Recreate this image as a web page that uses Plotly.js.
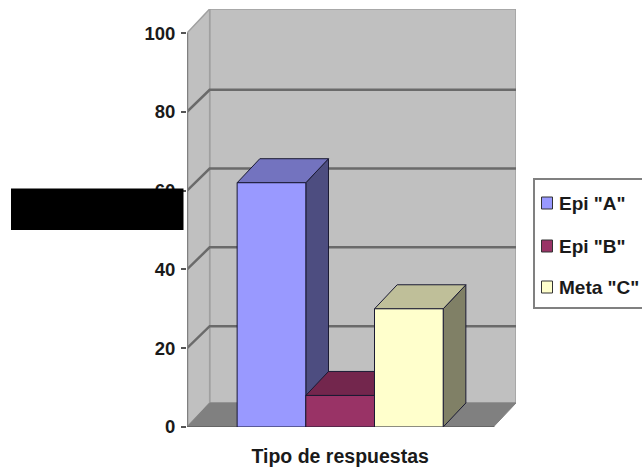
<!DOCTYPE html>
<html>
<head>
<meta charset="utf-8">
<script src="https://cdn.plot.ly/plotly-3.0.1.min.js"></script>
<style>html,body{margin:0;padding:0;background:#fff}</style>
</head>
<body>
<div id="chart" style="width:642px;height:469px"></div>
<script>
// Response types and their percentages
const seriesNames = ['Epi "A"', 'Epi "B"', 'Meta "C"'];
const seriesValues = [62, 8, 30];
const frontColors = ['#9999FF', '#993366', '#FFFFCC'];
const topColors = ['#7373BF', '#73264D', '#BFBF99'];
const sideColors = ['#4D4D80', '#4D1A33', '#808066'];
const yTicks = [0, 20, 40, 60, 80, 100];
const xTitle = 'Tipo de respuestas';

// Pseudo-3D box: the depth offset is expressed in axis units
const depthX = 0.33, depthY = 6.1, gridDepthY = 5.6;
const xStart = -0.73, xEnd = 3.73, yMax = 100;
const wallColor = '#C0C0C0', floorColor = '#808080', gridColor = '#6A6A6A', edgeColor = '#A0A0A0';

const traces = [];
function face(xs, ys, fill, line, width) {
  traces.push({
    type: 'scatter', mode: 'lines', x: xs.concat(xs[0]), y: ys.concat(ys[0]),
    fill: 'toself', fillcolor: fill, cliponaxis: false, showlegend: false, hoverinfo: 'skip',
    line: {color: line, width: width}
  });
}
function stroke(xs, ys, color, width) {
  traces.push({
    type: 'scatter', mode: 'lines', x: xs, y: ys, cliponaxis: false, showlegend: false,
    hoverinfo: 'skip', line: {color: color, width: width}
  });
}

// Walls and floor
face([xStart + depthX, xEnd + depthX, xEnd + depthX, xStart + depthX],
     [depthY, depthY, yMax + depthY, yMax + depthY], wallColor, edgeColor, 1.5);
face([xStart, xStart + depthX, xStart + depthX, xStart],
     [0, depthY, yMax + depthY, yMax], wallColor, edgeColor, 1.5);
face([xStart, xStart + depthX, xEnd + depthX, xEnd],
     [0, depthY, depthY, 0], floorColor, floorColor, 1);

// Gridlines run along the side wall and then across the back wall
yTicks.slice(1, -1).forEach(v => {
  stroke([xStart, xStart + depthX, xEnd + depthX], [v, v + gridDepthY, v + gridDepthY], gridColor, 2.5);
});

// Axis lines with the closing tick at the right end of the floor
stroke([xStart, xStart], [0, yMax], '#808080', 2.5);
stroke([xStart, xEnd, xEnd], [0, 0, -1.1], '#666666', 2);

// Boxes, drawn left to right so each one covers the side of the previous
seriesValues.forEach((v, i) => {
  const x0 = i, x1 = i + 1;
  face([x1, x1 + depthX, x1 + depthX, x1], [0, depthY, v + depthY, v], sideColors[i], '#1a1a33', 1);
  face([x0, x0 + depthX, x1 + depthX, x1], [v, v + depthY, v + depthY, v], topColors[i], '#1a1a33', 1);
  face([x0, x1, x1, x0], [0, 0, v, v], frontColors[i], '#1a1a33', 1);
});

// Legend placed in pixel terms and converted to paper fractions
const plotL = 187, plotR = 516, plotT = 9, plotB = 427;
const px = x => (x - plotL) / (plotR - plotL);
const py = y => (plotB - y) / (plotB - plotT);
const legendRows = [203, 246, 287];
const shapes = [
  {type: 'rect', xref: 'paper', yref: 'paper', x0: px(534), x1: px(645), y0: py(179), y1: py(308),
   line: {color: '#808080', width: 2}, fillcolor: '#FFFFFF'},
  // Black bar across the axis label area
  {type: 'rect', xref: 'paper', yref: 'paper', x0: px(11), x1: px(183.5), y0: py(188.5), y1: py(230),
   line: {width: 0}, fillcolor: '#000000'}
];
const annotations = [];
seriesNames.forEach((name, i) => {
  const cy = legendRows[i];
  shapes.push({type: 'rect', xref: 'paper', yref: 'paper', x0: px(541.5), x1: px(552.5), y0: py(cy - 6), y1: py(cy + 6),
    line: {color: '#333333', width: 1}, fillcolor: frontColors[i]});
  annotations.push({xref: 'paper', yref: 'paper', x: px(558), y: py(cy), xanchor: 'left', yanchor: 'middle',
    text: name, showarrow: false, borderpad: 0, font: {family: 'Liberation Sans', size: 19, color: '#1a1a1a', weight: 'bold'}});
});

const layout = {
  width: 642, height: 469, showlegend: false,
  margin: {l: plotL, r: 642 - plotR, t: plotT, b: 469 - plotB, pad: 0},
  paper_bgcolor: '#FFFFFF', plot_bgcolor: '#FFFFFF',
  xaxis: {
    range: [xStart, xEnd + depthX], showgrid: false, zeroline: false, showline: false,
    tickmode: 'array', tickvals: [1.5], ticktext: [xTitle], ticklen: 0, ticklabelstandoff: 15,
    tickfont: {family: 'Liberation Sans', size: 19.5, color: '#1a1a1a', weight: 'bold'}
  },
  yaxis: {
    range: [0, yMax + depthY], showgrid: false, zeroline: false, showline: false,
    tickmode: 'array', tickvals: yTicks, ticktext: yTicks.map(String), ticks: 'outside', ticklen: 5, tickwidth: 2,
    tickcolor: '#555555', ticklabelstandoff: 2,
    tickfont: {family: 'Liberation Sans', size: 18.5, color: '#1a1a1a', weight: 'bold'}
  },
  shapes: shapes, annotations: annotations
};
Plotly.newPlot('chart', traces, layout, {displayModeBar: false, responsive: false});
</script>
</body>
</html>
